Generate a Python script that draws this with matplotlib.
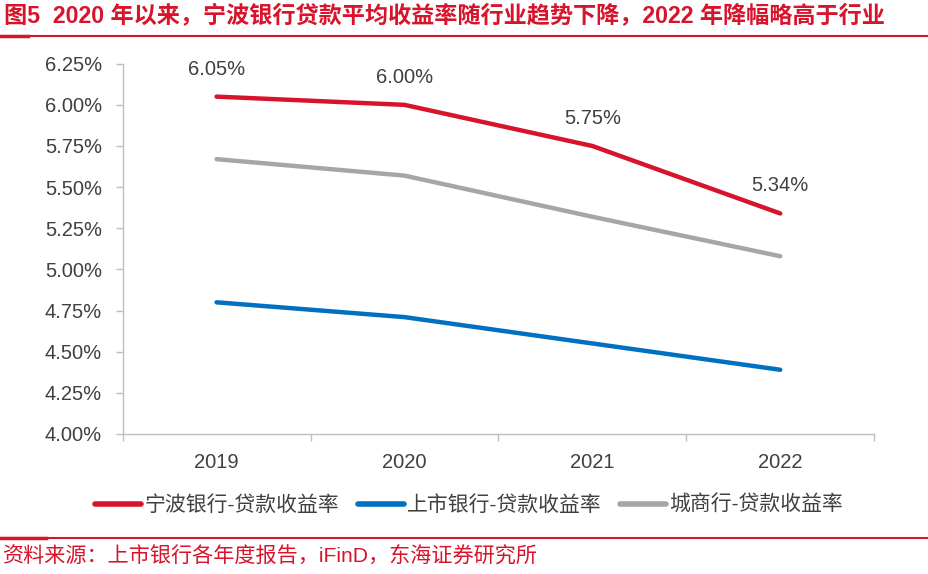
import matplotlib.pyplot as plt
from matplotlib.ticker import FuncFormatter

plt.rcParams['font.family'] = ['Liberation Sans', 'Noto Sans CJK SC', 'DejaVu Sans']

years = ['2019', '2020', '2021', '2022']
ningbo = [6.05, 6.00, 5.75, 5.34]
listed = [4.80, 4.71, 4.55, 4.39]
city = [5.67, 5.57, 5.32, 5.08]
series_names = ['宁波银行-贷款收益率', '上市银行-贷款收益率', '城商行-贷款收益率']

title = '图5  2020 年以来，宁波银行贷款平均收益率随行业趋势下降，2022 年降幅略高于行业'
source = '资料来源：上市银行各年度报告，iFinD，东海证券研究所'

red = '#D7142B'
blue = '#0070C0'
gray = '#A6A6A6'
text_color = '#404040'


def main():
    fig = plt.figure(figsize=(9.29, 5.74), dpi=100)
    ax = fig.add_axes([0.132, 0.244, 0.809, 0.645])

    x = range(len(years))
    ax.plot(x, ningbo, color=red, lw=3.2, solid_capstyle='round', label=series_names[0])
    ax.plot(x, listed, color=blue, lw=3.2, solid_capstyle='round', label=series_names[1])
    ax.plot(x, city, color=gray, lw=3.2, solid_capstyle='round', label=series_names[2])

    for i, v in enumerate(ningbo):
        ax.annotate(f'{v:.2f}%', (i, v), xytext=(0, 13), textcoords='offset points',
                    ha='center', va='bottom', fontsize=14.5, color=text_color)

    ax.set_xlim(-0.5, len(years) - 0.5)
    ax.set_ylim(4.0, 6.25)
    ax.set_yticks([4.0 + 0.25 * k for k in range(10)])
    ax.yaxis.set_major_formatter(FuncFormatter(lambda v, p: f'{v:.2f}%'))

    ax.set_xticks([i for i in x])
    ax.set_xticklabels(years)
    ax.set_xticks([i - 0.5 for i in range(len(years) + 1)], minor=True)
    ax.tick_params(axis='x', which='major', length=0, pad=14, labelsize=14.5, colors=text_color)
    ax.tick_params(axis='x', which='minor', length=5, color='#BFBFBF', width=1)
    ax.tick_params(axis='y', length=5, color='#BFBFBF', width=1, labelsize=14.5,
                   labelcolor=text_color, pad=10)

    for s in ['top', 'right']:
        ax.spines[s].set_visible(False)
    ax.spines['left'].set_color('#BFBFBF')
    ax.spines['bottom'].set_color('#BFBFBF')
    ax.spines['left'].set_linewidth(1)
    ax.spines['bottom'].set_linewidth(1)

    leg = fig.legend(loc='center', bbox_to_anchor=(0.505, 0.12), ncol=3, frameon=False,
                     fontsize=15, handlelength=2.2, handletextpad=0.15, columnspacing=0.9)
    for t in leg.get_texts():
        t.set_color(text_color)
    for h in leg.legend_handles:
        h.set_linewidth(4)

    fig.text(0.004, 0.972, title, color=red, fontsize=16.7, fontweight='bold', va='center')
    fig.add_artist(plt.Line2D([0, 1], [0.938, 0.938], color=red, lw=1.5))
    fig.add_artist(plt.Line2D([0, 0.03], [0.938, 0.938], color=red, lw=2.5))
    fig.add_artist(plt.Line2D([0, 1], [0.063, 0.063], color=red, lw=1.5))
    fig.add_artist(plt.Line2D([0, 0.05], [0.063, 0.063], color=red, lw=2.5))
    fig.text(0.003, 0.030, source, color=red, fontsize=15.2, va='center')

    fig.savefig('out.png', dpi=100)
    plt.close(fig)


if __name__ == '__main__':
    main()
